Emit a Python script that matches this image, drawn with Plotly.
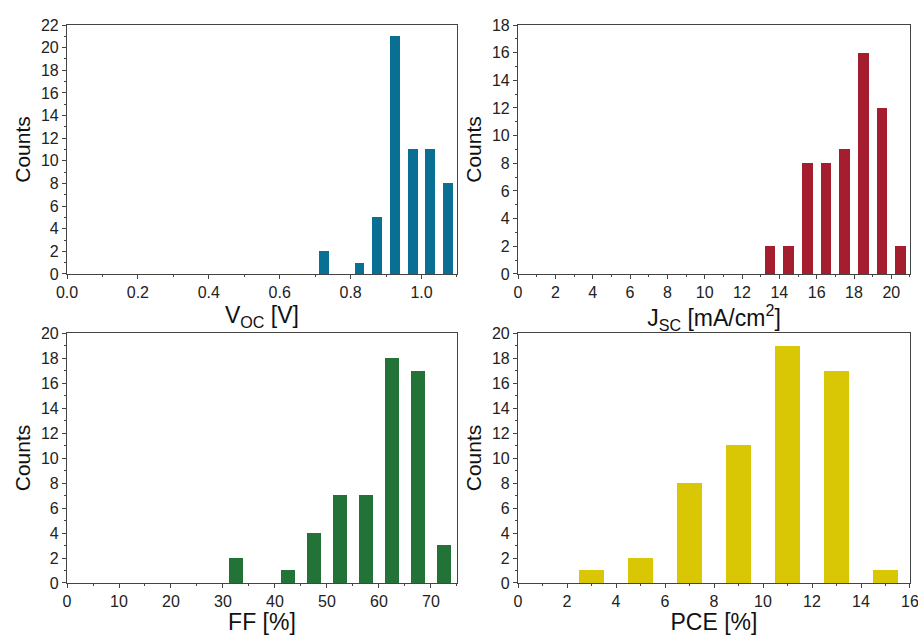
import plotly.graph_objects as go

# ---- data ----
voc_centers = [0.725, 0.775, 0.825, 0.875, 0.925, 0.975, 1.025, 1.075]
voc_counts = [2, 0, 1, 5, 21, 11, 11, 8]

jsc_centers = [13.5, 14.5, 15.5, 16.5, 17.5, 18.5, 19.5, 20.5]
jsc_counts = [2, 2, 8, 8, 9, 16, 12, 2]

ff_centers = [32.5, 37.5, 42.5, 47.5, 52.5, 57.5, 62.5, 67.5, 72.5]
ff_counts = [2, 0, 1, 4, 7, 7, 18, 17, 3]

pce_centers = [3, 5, 7, 9, 11, 13, 15]
pce_counts = [1, 2, 8, 11, 19, 17, 1]

colors = ["#0a7093", "#a41e30", "#237238", "#d9c605"]

FONT = "Liberation Sans, Arial, sans-serif"
TICKC = "#222222"

fig = go.Figure()

panels = [
    (voc_centers, voc_counts, 0.028, "x", "y"),
    (jsc_centers, jsc_counts, 0.56, "x2", "y2"),
    (ff_centers, ff_counts, 2.75, "x3", "y3"),
    (pce_centers, pce_counts, 1.02, "x4", "y4"),
]
for i, (xc, yc, w, xa, ya) in enumerate(panels):
    fig.add_trace(go.Bar(x=xc, y=yc, width=w, xaxis=xa, yaxis=ya,
                         marker=dict(color=colors[i], line=dict(width=0)),
                         showlegend=False))

def xax(domain, anchor, rng, dtick, minor, title, fmt=None):
    d = dict(domain=domain, anchor=anchor, range=rng, dtick=dtick, tick0=0,
             automargin=False, ticklabeloverflow="allow",
             showgrid=False, zeroline=False, showline=True, mirror=True,
             linecolor="#444", linewidth=1.2, ticks="outside", ticklen=4,
             tickcolor="#444", tickfont=dict(family=FONT, size=16, color=TICKC),
             minor=dict(dtick=minor, ticks="outside", ticklen=2, tickcolor="#444"),
             title=dict(text=title, font=dict(family=FONT, size=23, color="#111"), standoff=6))
    if fmt:
        d["tickformat"] = fmt
    return d

def yax(domain, anchor, rng):
    return dict(domain=domain, anchor=anchor, range=rng, dtick=2, tick0=0,
                automargin=False, ticklabeloverflow="allow",
                showgrid=False, zeroline=False, showline=True, mirror=True,
                linecolor="#444", linewidth=1.2, ticks="outside", ticklen=4,
                tickcolor="#444", tickfont=dict(family=FONT, size=16, color=TICKC),
                minor=dict(dtick=1, ticks="outside", ticklen=2, tickcolor="#444"),
                title=dict(text="Counts", font=dict(family=FONT, size=21, color="#111"), standoff=4))

xl = [0.0, 0.4626]
xr = [0.535, 1.0]
yt = [0.5538, 1.0]
yb = [0.0, 0.448]

fig.update_layout(
    width=918, height=635,
    margin=dict(l=67, r=8, t=25, b=52),
    paper_bgcolor="white", plot_bgcolor="white",
    bargap=0,
    hovermode=False,
    xaxis=xax(xl, "y", [0, 1.1], 0.2, 0.1, "V<sub>OC</sub> [V]", ".1f"),
    yaxis=yax(yt, "x", [0, 22]),
    xaxis2=xax(xr, "y2", [0, 21], 2, 1, "J<sub>SC</sub> [mA/cm<sup>2</sup>]"),
    yaxis2=yax(yt, "x2", [0, 18]),
    xaxis3=xax(xl, "y3", [0, 75], 10, 5, "FF [%]"),
    yaxis3=yax(yb, "x3", [0, 20]),
    xaxis4=xax(xr, "y4", [0, 16], 2, 1, "PCE [%]"),
    yaxis4=yax(yb, "x4", [0, 20]),
)

fig.write_html("out.html",
               config={"displayModeBar": False},
               post_script="document.body.style.margin='0';document.body.style.overflow='hidden';")
